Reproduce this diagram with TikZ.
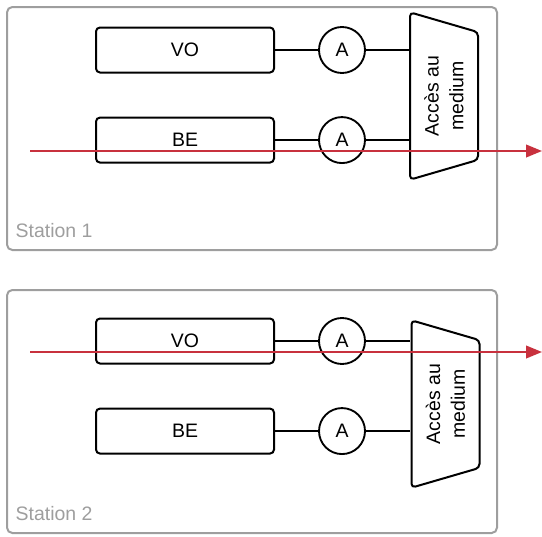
\documentclass[tikz,border=0pt]{standalone}
\usepackage{fontspec}
\setmainfont{Liberation Sans}
\usetikzlibrary{arrows.meta,positioning,shapes.geometric}
\definecolor{StnGray}{HTML}{9E9E9E}
\definecolor{StnRed}{HTML}{C8313E}
\tikzset{
  stnframe/.style={
    draw=StnGray,
    line width=1.5pt,
    rounded corners=4pt,
    minimum width=367.5pt,
    minimum height=182.25pt
  },
  stnlabel/.style={
    text=StnGray,
    anchor=west
  },
  stnbox/.style={
    draw,
    line width=1.5pt,
    rounded corners=3pt,
    minimum width=133.5pt,
    minimum height=33.75pt
  },
  stnamp/.style={
    circle,
    draw,
    line width=1.4pt,
    minimum size=34.5pt,
    inner sep=0pt
  },
  stnmac/.style={
    trapezium,
    trapezium stretches=true,
    trapezium left angle=106,
    trapezium right angle=106,
    draw,
    line width=1.5pt,
    rounded corners=3pt,
    rotate=90,
    minimum width=126pt,
    minimum height=51pt,
    align=center
  },
  stnwire/.style={line width=1.3pt},
  stnflow/.style={-{Triangle[length=12pt,width=9.5pt]},line width=1.4pt,draw=StnRed}
}

\begin{document}
\begin{tikzpicture}[x=0.75pt,y=-0.75pt,node distance=32.3pt,font=\fontsize{14.6}{18.5}\selectfont]
    \useasboundingbox (0,0) rectangle (542,536);
    % Station 1
    \node[stnframe] (frame1) at (252,128.5) {};
    \node[stnlabel] (label1) at (11,231) {Station 1};
    \node[stnbox] (vo1) at (185,50) {VO};
    \node[stnbox,below=of vo1] (be1) {BE};
    \node[stnamp,right=of vo1] (ampvo1) {A};
    \node[stnamp,right=of be1] (ampbe1) {A};
    \node[stnmac] (mac1) at (444,96) {Accès au\\medium};
    \draw[stnwire] (vo1) -- (ampvo1);
    \draw[stnwire] (be1) -- (ampbe1);
    \draw[stnwire] (ampvo1) -- (ampvo1 -| mac1.north);
    \draw[stnwire] (ampbe1) -- (ampbe1 -| mac1.north);
    \coordinate (src1) at (30,151);
    \coordinate (dst1) at (542,151);
    \draw[stnflow] (src1) -- (dst1);
    % Station 2
    \node[stnframe] (frame2) at (252,411.5) {};
    \node[stnlabel] (label2) at (11,514) {Station 2};
    \node[stnbox] (vo2) at (185,341) {VO};
    \node[stnbox,below=of vo2] (be2) {BE};
    \node[stnamp,right=of vo2] (ampvo2) {A};
    \node[stnamp,right=of be2] (ampbe2) {A};
    \node[stnmac] (mac2) at (445.5,404) {Accès au\\medium};
    \draw[stnwire] (vo2) -- (ampvo2);
    \draw[stnwire] (be2) -- (ampbe2);
    \draw[stnwire] (ampvo2) -- (ampvo2 -| mac2.north);
    \draw[stnwire] (ampbe2) -- (ampbe2 -| mac2.north);
    \coordinate (src2) at (30,352);
    \coordinate (dst2) at (542,352);
    \draw[stnflow] (src2) -- (dst2);
  \end{tikzpicture}
\end{document}
